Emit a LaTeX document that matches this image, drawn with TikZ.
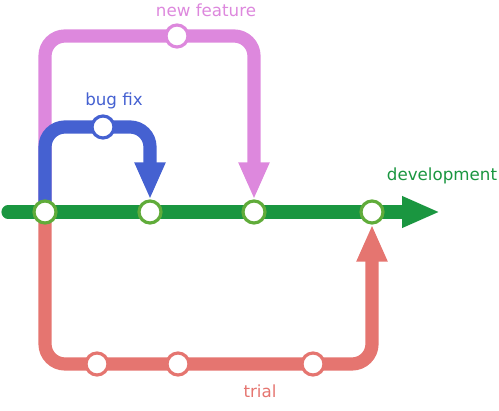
\documentclass[tikz,border=0pt]{standalone}
\usepackage{fontspec}
\setmainfont{DejaVu Sans}
\usepackage{xcolor}
\usepackage{tikz}
\usetikzlibrary{positioning,arrows.meta}
\definecolor{devgreen}{RGB}{26,150,64}
\definecolor{ringgreen}{RGB}{96,172,58}
\definecolor{featpink}{RGB}{221,136,221}
\definecolor{bugblue}{RGB}{69,97,209}
\definecolor{trialred}{RGB}{229,117,112}
\pgfdeclarelayer{tracks}
\pgfsetlayers{tracks,main}

\begin{document}
\begin{tikzpicture}[x=0.02cm, y=-0.02cm,
  commit/.style={circle, draw=#1, fill=white, line width=1.8pt, minimum size=0.44cm, inner sep=0pt},
  track/.style={draw=#1, line width=7.5pt, rounded corners=0.4cm},
  tip/.style={-{Triangle[length=0.74cm, width=0.57cm]}},
  lbl/.style={font=\fontsize{9.5}{11}\selectfont, text=#1}]
\useasboundingbox (0,0) rectangle (499,411);
% commits on the main line
\node[commit=ringgreen] (c1) at (45,212) {};
\node[commit=ringgreen] (c2) at (150,212) {};
\node[commit=ringgreen] (c3) at (254,212) {};
\node[commit=ringgreen] (c4) at (372,212) {};
\coordinate (devstart) at (8,212);
\coordinate (devend) at (440,212);
% side branches
\node[commit=featpink] (f1) at (177,36) {};
\node[commit=bugblue] (b1) at (103,127) {};
\node[commit=trialred] (t1) at (97,364) {};
\node[commit=trialred] (t2) at (178,364) {};
\node[commit=trialred] (t3) at (313,364) {};
% labels
\node[lbl=featpink] (featlabel) at (206,10) {new feature};
\node[lbl=bugblue] (buglabel) at (114,101) {bug fix};
\node[lbl=devgreen] (devlabel) at (442,176) {development};
\node[lbl=trialred] (triallabel) at (260,391) {trial};
\begin{pgfonlayer}{tracks}
\draw[track=featpink, tip] (c1.center) |- (f1.center) -| (c3.north);
\draw[track=trialred, tip] (c1.center) |- (t1.center) -- (t3.center) -| (c4.south);
\draw[track=bugblue, tip] (c1.center) |- (b1.center) -| (c2.north);
\draw[track=devgreen, line cap=round, -{Triangle[length=0.76cm, width=0.58cm]}] (devstart) -- (c4.center) -- (devend);
\end{pgfonlayer}
\end{tikzpicture}
\end{document}
